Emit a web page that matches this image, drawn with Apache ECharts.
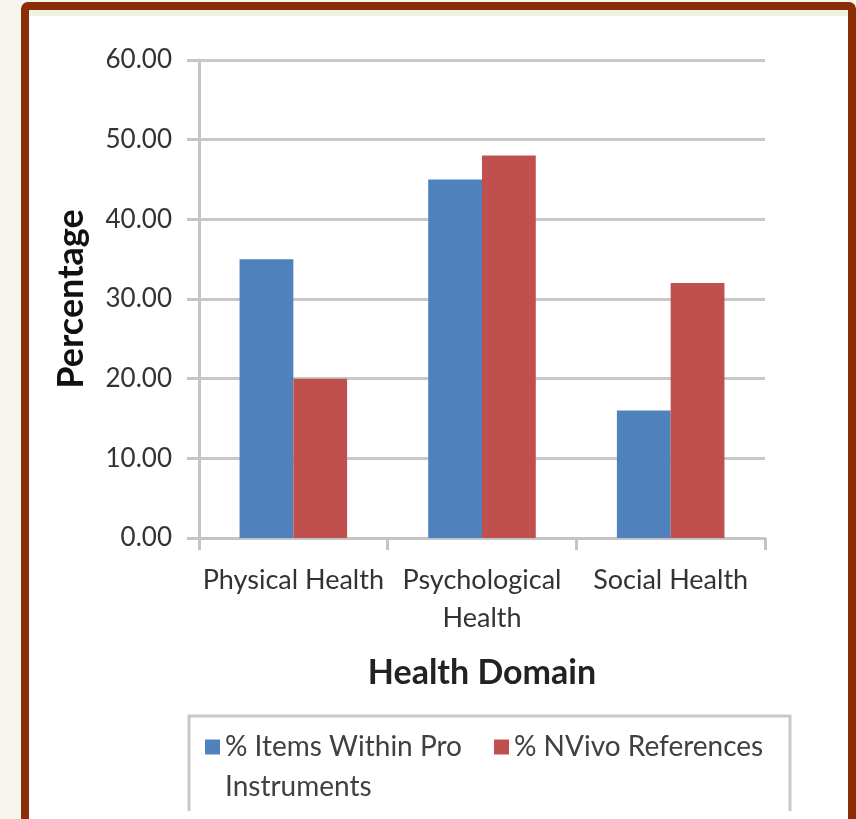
<!DOCTYPE html>
<html>
<head>
<meta charset="utf-8">
<script src="https://cdn.jsdelivr.net/npm/echarts@6/dist/echarts.min.js"></script>
<style>
  html, body { margin: 0; padding: 0; background: #f6f6ee; }
  #frame {
    position: absolute; left: 21px; top: 2px; width: 819px; height: 900px;
    border: 8px solid #8b2e08; border-radius: 7px; background: #fff;
    box-shadow: inset 0 6px 0 #eef2e0;
  }
  #chart { position: absolute; left: 0; top: 0; width: 856px; height: 819px; }
</style>
</head>
<body>
<div id="frame"></div>
<div id="chart"></div>
<script>
  // 数据
  var categories = ['Physical Health', 'Psychological\nHealth', 'Social Health'];
  var seriesNames = ['% Items Within Pro Instruments', '% NVivo References'];
  var itemsWithinPro = [35, 45, 16];
  var nvivoRefs = [20, 48, 32];

  var font = 'Lato';
  var legendText = { fontSize: 28, color: '#404040', lineHeight: 40, fontFamily: font };

  var chart = echarts.init(document.getElementById('chart'));
  chart.setOption({
    backgroundColor: 'transparent',
    animation: false,
    textStyle: { fontFamily: font },
    grid: { left: 199, top: 60, width: 566, height: 478 },
    legend: [{
      // 两行文字，图标对齐第一行
      data: [seriesNames[0]],
      left: 200,
      top: 722,
      itemWidth: 15,
      itemHeight: 55,
      icon: 'path://M0,0L15,0L15,15L0,15Z M0,55L15,55',
      textStyle: legendText,
      formatter: function (name) {
        return name.replace(' Instruments', '\nInstruments');
      }
    }, {
      data: [seriesNames[1]],
      left: 489,
      top: 722,
      itemWidth: 15,
      itemHeight: 15,
      icon: 'rect',
      textStyle: legendText
    }],
    graphic: [{
      type: 'polyline',
      silent: true,
      shape: { points: [[189, 811], [189, 716], [790, 716], [790, 811]] },
      style: { stroke: '#c8c8c8', lineWidth: 3, fill: null }
    }],
    xAxis: {
      type: 'category',
      data: categories,
      name: 'Health Domain',
      nameLocation: 'middle',
      nameGap: 118,
      nameTextStyle: { fontSize: 34, fontWeight: 'bold', color: '#222', fontFamily: font },
      axisLine: { lineStyle: { color: '#c4c4c4', width: 3 } },
      axisTick: { show: true, length: 12, lineStyle: { color: '#c4c4c4', width: 3 } },
      axisLabel: { margin: 23, fontSize: 27, lineHeight: 38, color: '#333', interval: 0 }
    },
    yAxis: {
      type: 'value',
      min: 0,
      max: 60,
      interval: 10,
      name: 'Percentage',
      nameLocation: 'middle',
      nameGap: 110,
      nameTextStyle: { fontSize: 36, fontWeight: 'bold', color: '#111', fontFamily: font },
      axisLine: { show: true, lineStyle: { color: '#c4c4c4', width: 3 } },
      axisTick: { show: true, length: 12, lineStyle: { color: '#c4c4c4', width: 3 } },
      splitLine: { lineStyle: { color: '#c8c8c8', width: 3 } },
      axisLabel: {
        margin: 27,
        fontSize: 26,
        color: '#333',
        formatter: function (v) { return v.toFixed(2); }
      }
    },
    series: [{
      name: seriesNames[0],
      type: 'bar',
      data: itemsWithinPro,
      barGap: '0%',
      barCategoryGap: '43%',
      itemStyle: { color: '#4f81bd' }
    }, {
      name: seriesNames[1],
      type: 'bar',
      data: nvivoRefs,
      itemStyle: { color: '#c0504d' }
    }]
  });
</script>
</body>
</html>
